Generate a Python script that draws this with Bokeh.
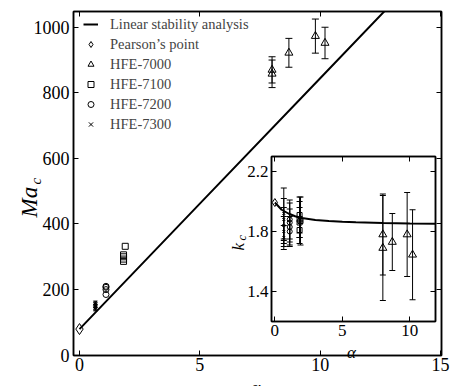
import numpy as np
from bokeh.plotting import figure
from bokeh.models import (ColumnDataSource, Whisker, TeeHead, Label, LinearAxis,
                          FixedTicker, Range1d, Legend, LegendItem)
from bokeh.layouts import column, row
from bokeh.embed import file_html
from bokeh.resources import INLINE

# ---------------- data ----------------
lin_alpha = [0, 5, 10, 15]
lin_ma = [79.6, 462.1, 844.6, 1227.1]

pearson_alpha = [0.0]
pearson_ma = [79.6]
pearson_k = [1.993]

hfe7000_alpha = [8.0, 8.0, 8.7, 9.8, 10.2]
hfe7000_ma = [858, 870, 922, 973, 952]
hfe7000_ma_err = [42, 40, 44, 52, 48]
hfe7000_k = [1.78, 1.69, 1.73, 1.78, 1.645]
hfe7000_k_err = [0.27, 0.35, 0.19, 0.28, 0.30]

hfe7100_alpha = [1.83, 1.83, 1.83, 1.83, 1.90]
hfe7100_ma = [286, 293, 300, 306, 332]
hfe7100_k = [1.81, 1.86, 1.88, 1.91, 1.87]
hfe7100_k_err = [0.09, 0.10, 0.12, 0.12, 0.16]

hfe7200_alpha = [1.1, 1.1, 1.1, 1.1]
hfe7200_ma = [185, 200, 207, 210]
hfe7200_k = [1.80, 1.83, 1.86, 1.88]
hfe7200_k_err = [0.10, 0.12, 0.13, 0.13]

hfe7300_alpha = [0.66, 0.66, 0.66, 0.66, 0.66]
hfe7300_ma = [140, 145, 150, 155, 160]
hfe7300_ma_err = [5, 5, 5, 5, 5]
hfe7300_k = [1.76, 1.80, 1.84, 1.88, 1.92]
hfe7300_k_err = [0.08, 0.10, 0.12, 0.14, 0.17]

kc_alpha = [0, 0.5, 1, 1.5, 2, 3, 4, 5, 6, 8, 10, 12]
kc_lin = [1.993, 1.945, 1.92, 1.902, 1.89, 1.877, 1.87, 1.865, 1.861, 1.856, 1.853, 1.851]

main_xticks = [0, 5, 10, 15]
main_yticks = [0, 200, 400, 600, 800, 1000]
inset_xticks = [0, 5, 10]
inset_yticks = [1.4, 1.8, 2.2]

FONT = "Liberation Serif"
W, H = 450, 386


def err_source(x, y, e):
    y = np.asarray(y, dtype=float)
    e = np.asarray(e, dtype=float)
    return ColumnDataSource(dict(x=list(x), upper=list(y + e), lower=list(y - e)))


def add_whisker(fig, x, y, e, size):
    w = Whisker(source=err_source(x, y, e), base="x", upper="upper", lower="lower",
                dimension="height", line_color="black", line_width=1,
                upper_head=TeeHead(size=size, line_color="black", line_width=1),
                lower_head=TeeHead(size=size, line_color="black", line_width=1))
    fig.add_layout(w)


def style_axes(fig, xticks, yticks, xstand, ystand, fsize):
    fig.xaxis.ticker = FixedTicker(ticks=xticks)
    fig.yaxis.ticker = FixedTicker(ticks=yticks)
    for ax in (fig.xaxis + fig.yaxis):
        ax.major_tick_in = 5
        ax.major_tick_out = 0
        ax.minor_tick_line_color = None
        ax.axis_line_color = "black"
        ax.axis_line_width = 1.5
        ax.major_tick_line_color = "black"
        ax.major_label_text_font = FONT
        ax.major_label_text_font_size = fsize
        ax.major_label_text_color = "black"
    fig.xaxis.major_label_standoff = xstand
    fig.yaxis.major_label_standoff = ystand
    top = LinearAxis(ticker=FixedTicker(ticks=xticks), major_label_text_font_size="0px",
                     major_tick_in=5, major_tick_out=0, major_label_standoff=0,
                     minor_tick_line_color=None, axis_line_color="black", axis_line_width=1.5)
    right = LinearAxis(ticker=FixedTicker(ticks=yticks), major_label_text_font_size="0px",
                       major_tick_in=5, major_tick_out=0, major_label_standoff=0,
                       minor_tick_line_color=None, axis_line_color="black", axis_line_width=1.5)
    fig.add_layout(top, "above")
    fig.add_layout(right, "right")


# ---------------- main figure ----------------
p = figure(width=W, height=H, x_range=Range1d(-0.249, 15.04), y_range=Range1d(-1, 1048),
           min_border_left=73, min_border_right=9, min_border_top=11, min_border_bottom=31,
           output_backend="svg", toolbar_location=None)
p.grid.visible = False
p.outline_line_color = "black"
p.outline_line_width = 1.5
style_axes(p, main_xticks, main_yticks, 2, 4, "18px")

r_lin = p.line(lin_alpha, lin_ma, line_color="black", line_width=2)
add_whisker(p, hfe7000_alpha, hfe7000_ma, hfe7000_ma_err, 7)
add_whisker(p, hfe7300_alpha, hfe7300_ma, hfe7300_ma_err, 4)
r_pe = p.scatter(pearson_alpha, pearson_ma, marker="diamond", size=11,
                 line_color="black", fill_color=None)
r_70 = p.scatter(hfe7000_alpha, hfe7000_ma, marker="triangle", size=8, line_color="black",
                 fill_color=None)
r_71 = p.scatter(hfe7100_alpha, hfe7100_ma, marker="square", size=6, line_color="black",
                 fill_color=None)
r_72 = p.scatter(hfe7200_alpha, hfe7200_ma, marker="circle", size=6, line_color="black",
                 fill_color=None)
r_73 = p.scatter(hfe7300_alpha, hfe7300_ma, marker="x", size=5, line_color="black")

legend = Legend(items=[
    LegendItem(label="Linear stability analysis", renderers=[r_lin]),
    LegendItem(label="Pearson\u2019s point", renderers=[r_pe]),
    LegendItem(label="HFE-7000", renderers=[r_70]),
    LegendItem(label="HFE-7100", renderers=[r_71]),
    LegendItem(label="HFE-7200", renderers=[r_72]),
    LegendItem(label="HFE-7300", renderers=[r_73]),
], location=(10, 221), glyph_width=15, glyph_height=20, label_height=20, label_standoff=12,
    spacing=0, padding=0, margin=0, label_text_font=FONT, label_text_font_size="14.5px",
    background_fill_alpha=0, border_line_alpha=0)
p.add_layout(legend, "center")

# ---------------- inset figure (transparent border, full width) ----------------
INSET_TOP = 146
INSET_H = 205
q = figure(width=W, height=INSET_H, x_range=Range1d(-0.25, 11.9), y_range=Range1d(1.2, 2.3),
           min_border_left=271, min_border_right=15, min_border_top=10, min_border_bottom=30,
           output_backend="svg", toolbar_location=None)
q.grid.visible = False
q.border_fill_alpha = 0
q.background_fill_color = "white"
q.outline_line_color = "black"
q.outline_line_width = 1.5
style_axes(q, inset_xticks, inset_yticks, 3, 3, "17px")

q.line(kc_alpha, kc_lin, line_color="black", line_width=2)
add_whisker(q, hfe7000_alpha, hfe7000_k, hfe7000_k_err, 6)
add_whisker(q, hfe7100_alpha, hfe7100_k, hfe7100_k_err, 6)
add_whisker(q, hfe7200_alpha, hfe7200_k, hfe7200_k_err, 6)
add_whisker(q, hfe7300_alpha, hfe7300_k, hfe7300_k_err, 6)
q.scatter(pearson_alpha, pearson_k, marker="diamond", size=8, line_color="black",
          fill_color=None)
q.scatter(hfe7000_alpha, hfe7000_k, marker="triangle", size=8, line_color="black", fill_color=None)
q.scatter(hfe7100_alpha, hfe7100_k, marker="square", size=5, line_color="black", fill_color=None)
q.scatter(hfe7200_alpha, hfe7200_k, marker="circle", size=5, line_color="black", fill_color=None)
q.scatter(hfe7300_alpha, hfe7300_k, marker="x", size=4, line_color="black")

# ---------------- transparent overlay for axis titles (pixel coordinates) ----------------
t = figure(width=W, height=H, x_range=Range1d(0, W), y_range=Range1d(H, 0),
           min_border_left=0, min_border_right=0, min_border_top=0, min_border_bottom=0,
           x_axis_location=None, y_axis_location=None,
           output_backend="svg", toolbar_location=None)
t.grid.visible = False
t.outline_line_color = None
t.background_fill_alpha = 0
t.border_fill_alpha = 0


def title_text(x, y, s, size, angle=0.0, align="left"):
    t.add_layout(Label(x=x, y=y, text=s, angle=angle, text_align=align,
                       text_baseline="alphabetic", text_font=FONT, text_font_size=size,
                       text_font_style="italic", text_color="black"))


title_text(29, 217, "Ma", "23px", np.pi / 2)
title_text(35, 184, "c", "15px", np.pi / 2)
title_text(255, 387, "\u03b1", "18px", 0.0, "center")
title_text(238, 250, "k", "17px", np.pi / 2)
title_text(241, 240, "c", "12px", np.pi / 2)
title_text(351, 352, "\u03b1", "17px", 0.0, "center")

# wrap each overlay in its own row so plot frames are not aligned with the main plot
q_box = row(q, margin=(INSET_TOP - H, 0, 0, 0))
t_box = row(t, margin=(-(INSET_TOP + INSET_H), 0, 0, 0))
layout = column(p, q_box, t_box, spacing=0)
open("out.html", "w").write(file_html(layout, INLINE))
